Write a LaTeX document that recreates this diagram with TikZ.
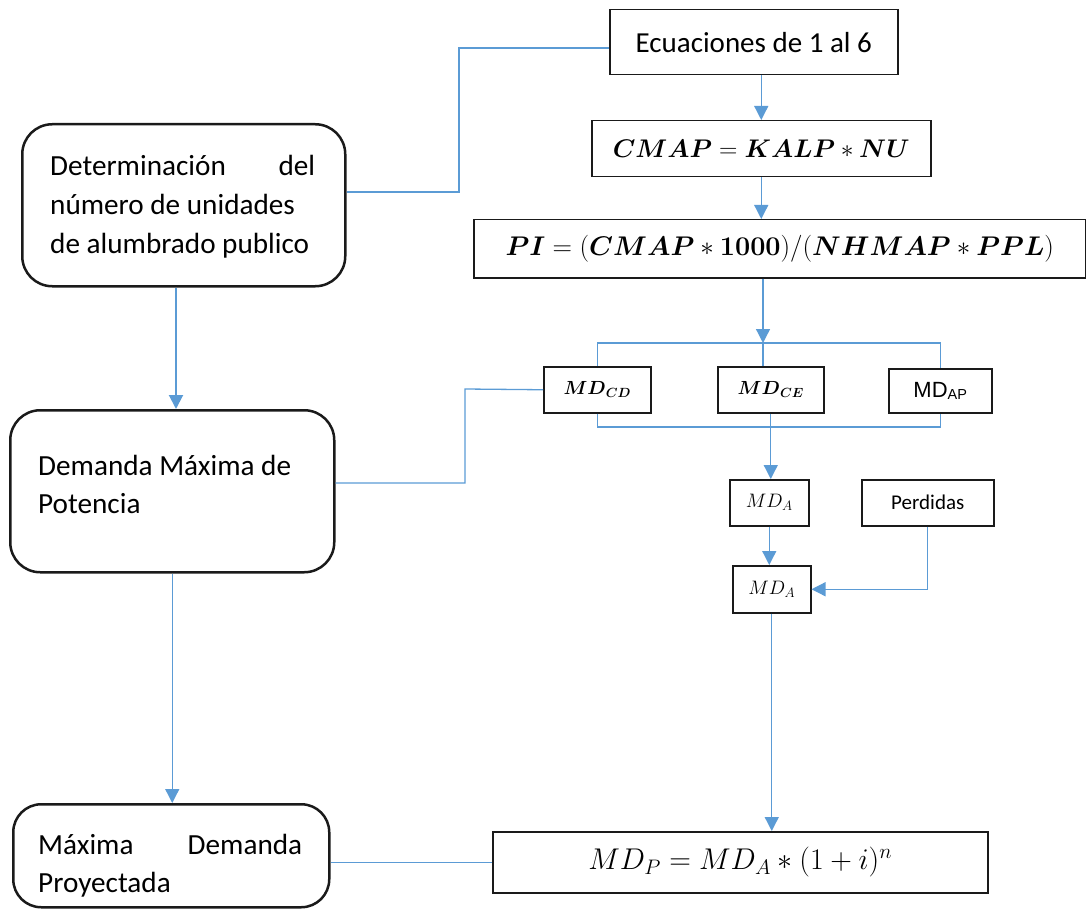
\documentclass[tikz,border=0pt]{standalone}
\usepackage{fix-cm}
\usepackage{amsmath}
\usepackage{fontspec}
\setmainfont{Carlito}
\newfontfamily\arialfont{Liberation Sans}
\usetikzlibrary{arrows.meta}

% bold math alphabets from Computer Modern
\DeclareMathAlphabet{\mathbfit}{OML}{cmm}{b}{it}
\DeclareMathAlphabet{\mathbfup}{OT1}{cmr}{bx}{n}

\definecolor{lineblue}{HTML}{5B9BD5}
\definecolor{boxedge}{HTML}{1A1A1A}

\tikzset{
  flow/.style={draw=lineblue, line width=1.3pt},
  arr/.style={flow, -{Triangle[length=14pt,width=14pt]}},
  rbox/.style={draw=boxedge, line width=2.5pt, rounded corners=30pt, anchor=north west, inner sep=0pt},
  sbox/.style={draw=boxedge, line width=1.5pt, anchor=north west, inner sep=0pt},
  txt/.style={anchor=base west, inner sep=0pt, font=\fontsize{29.2}{34}\selectfont},
}

\begin{document}
\begin{tikzpicture}[x=1pt,y=-1pt]
\useasboundingbox (0,0) rectangle (1086,909);

% right column: equation boxes
\node[sbox, minimum width=288pt, minimum height=65pt, font=\fontsize{29}{34}\selectfont] (ecu) at (609,9) {Ecuaciones de 1 al 6};
\node[sbox, minimum width=339pt, minimum height=56pt, font=\fontsize{25.5}{30}\selectfont] (cmap) at (591,120) {$\mathbfit{CMAP} = \mathbfit{KALP} \ast \mathbfit{NU}$};
\node[sbox, minimum width=612pt, minimum height=58pt, font=\fontsize{27}{32}\selectfont] (pi) at (473,219) {$\mathbfit{PI} = (\mathbfit{CMAP} \ast \mathbfup{1000})/(\mathbfit{NHMAP} \ast \mathbfit{PPL})$};

\node[sbox, minimum width=107pt, minimum height=46pt, font=\fontsize{19}{23}\selectfont] (mdcd) at (543,366) {$\mathbfit{MD}_{\mathbfit{CD}}$};
\node[sbox, minimum width=106pt, minimum height=46pt, font=\fontsize{19}{23}\selectfont] (mdce) at (717,366) {$\mathbfit{MD}_{\mathbfit{CE}}$};
\node[sbox, minimum width=103pt, minimum height=44pt, font=\arialfont\fontsize{22}{26}\selectfont] (mdap) at (888,368) {MD\raisebox{-2pt}{\fontsize{14.5}{16}\selectfont AP}};

\node[sbox, minimum width=79pt, minimum height=46pt, font=\fontsize{19.5}{23}\selectfont] (mda1) at (729,479) {$MD_A$};
\node[sbox, minimum width=132pt, minimum height=46pt, font=\fontsize{21}{25}\selectfont] (perd) at (861,479) {Perdidas};
\node[sbox, minimum width=78pt, minimum height=47pt, font=\fontsize{19.5}{23}\selectfont] (mda2) at (732,565) {$MD_A$};

\node[sbox, minimum width=495pt, minimum height=61pt, font=\fontsize{30}{35}\selectfont] (mdp) at (492,831) {$MD_P = MD_A \ast (1+i)^n$};

% left column: process boxes
\node[rbox, minimum width=323pt, minimum height=162pt] (det) at (21,123) {};
\node[txt] (det1) at (50,176) {\makebox[265pt][l]{Determinación\hfill del}};
\node[txt] (det2) at (50,215) {número de unidades};
\node[txt] (det3) at (50,254) {de alumbrado publico};

\node[rbox, minimum width=324pt, minimum height=162pt] (dem) at (9,409) {};
\node[txt] (dem1) at (38,475) {Demanda Máxima de};
\node[txt] (dem2) at (38,513) {Potencia};

\node[rbox, minimum width=316pt, minimum height=103pt, rounded corners=28pt] (mx) at (12,803) {};
\node[txt] (mx1) at (38,854) {\makebox[264pt][l]{Máxima\hfill Demanda}};
\node[txt] (mx2) at (38,892) {Proyectada};

% junction points
\coordinate (j1) at (459,192);
\coordinate (j2) at (459,48);
\coordinate (bus) at (763,343);
\coordinate (lbus) at (765,427);
\coordinate (j3) at (465,483);
\coordinate (j4) at (465,389);
\coordinate (lx) at (176,0);

% connectors
\draw[flow] (det.east |- j1) -- (j1) -- (j2) -- (j2 -| ecu.west);
\draw[arr] (ecu.south -| cmap.north) -- (cmap.north);
\draw[arr] (cmap.south) -- (cmap.south |- pi.north);
\draw[arr] (pi.south -| bus) -- (bus);
\draw[flow] (mdcd.north) |- (bus) -| (mdap.north);
\draw[flow] (bus) -- (bus |- mdce.north);
\draw[flow] (mdcd.south) |- (lbus) -| (mdap.south);
\draw[arr] (mdce.south) -- (mdce.south |- mda1.north);
\draw[arr] (mda1.south) -- (mda1.south |- mda2.north);
\draw[arr] (perd.south) |- (mda2.east);
\draw[arr] (mda2.south) -- (mda2.south |- mdp.north);

\draw[flow] (dem.east |- j3) -- (j3) -- (j4) -- (mdcd.west);
\draw[arr, line width=2pt] (det.south -| lx) -- (dem.north -| lx);
\draw[arr] (dem.south) -- (dem.south |- mx.north);
\draw[flow] (mx.east |- mdp.west) -- (mdp.west);
\end{tikzpicture}
\end{document}
